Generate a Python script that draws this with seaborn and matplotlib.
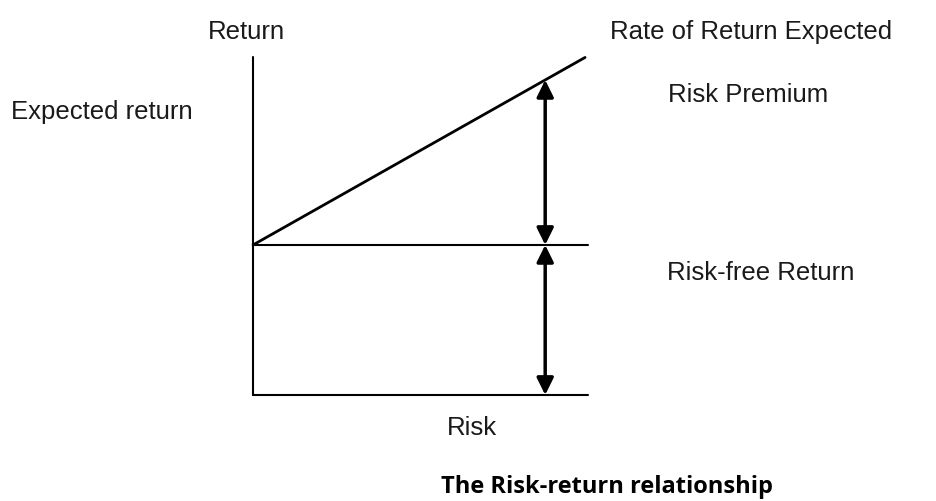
import matplotlib
matplotlib.use("Agg")
import matplotlib.pyplot as plt
import seaborn as sns
import pandas as pd

# Risk (x) and return (y) values of the schematic
risk = [0.0, 1.0]
risk_free_return = 1.0
expected_return_at_max_risk = 2.25
return_axis_top = 2.25
risk_line_end = 1.01
arrow_risk = 0.88

sns.set_theme(style="white")
plt.rcParams["font.family"] = ["Liberation Sans", "DejaVu Sans"]

fig = plt.figure(figsize=(9.36, 5.01), dpi=100)
ax = fig.add_axes([0, 0, 1, 1])
ax.set_xlim(-0.762, 2.057)
ax.set_ylim(-0.707, 2.633)
ax.axis("off")

# Line of expected return rising from the risk-free rate
slope = (expected_return_at_max_risk - risk_free_return) / (risk[1] - risk[0])
line_df = pd.DataFrame({"risk": risk,
                        "ret": [risk_free_return + slope * r for r in risk]})
sns.lineplot(data=line_df, x="risk", y="ret", color="black", lw=2.0, ax=ax,
             estimator=None)

# Axes of the diagram
axis_df = pd.DataFrame({"risk": [0.0, 0.0], "ret": [0.0, return_axis_top]})
sns.lineplot(data=axis_df, x="risk", y="ret", color="black", lw=1.5, ax=ax,
             sort=False, estimator=None)
base_df = pd.DataFrame({"risk": [0.0, risk_line_end], "ret": [0.0, 0.0]})
sns.lineplot(data=base_df, x="risk", y="ret", color="black", lw=1.5, ax=ax,
             estimator=None)
rf_df = pd.DataFrame({"risk": [0.0, risk_line_end],
                      "ret": [risk_free_return, risk_free_return]})
sns.lineplot(data=rf_df, x="risk", y="ret", color="black", lw=1.5, ax=ax,
             estimator=None)

# Double-headed arrows: risk premium and risk-free return
top_at_arrow = risk_free_return + slope * arrow_risk
arrow_style = dict(arrowstyle="<|-|>,head_length=0.85,head_width=0.42",
                   color="black", lw=2.5, shrinkA=0, shrinkB=0)
ax.annotate("", xy=(arrow_risk, top_at_arrow), xytext=(arrow_risk, risk_free_return),
            arrowprops=arrow_style)
ax.annotate("", xy=(arrow_risk, risk_free_return), xytext=(arrow_risk, 0.0),
            arrowprops=arrow_style)

fs = 18.5
color = "#1a1a1a"
def label(x, y, s, **kw):
    fig.text(x / 936, 1 - y / 501, s, ha="left", va="baseline", fontsize=fs,
             color=color, **kw)

label(208, 39, "Return")
label(610, 39, "Rate of Return Expected")
label(11, 119, "Expected return")
label(668, 102, "Risk Premium")
label(667, 280, "Risk-free Return")
label(447, 435, "Risk")
fig.text(607 / 936, 1 - 493 / 501, "The Risk-return relationship", ha="center",
         va="baseline", fontsize=17, fontweight="bold", color="black",
         family=["Open Sans", "DejaVu Sans"])

fig.savefig("out.png", dpi=100)
